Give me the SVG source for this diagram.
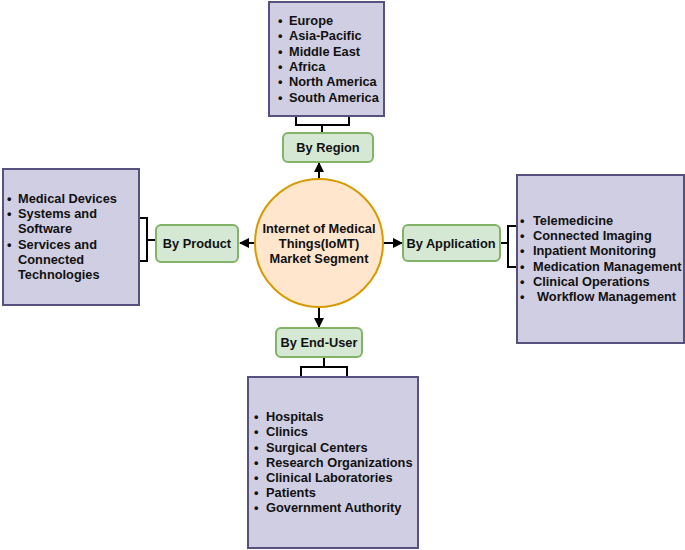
<svg xmlns="http://www.w3.org/2000/svg" width="685" height="550" viewBox="0 0 685 550">
<style>
.list{fill:#d0cee2;stroke:#56517e;stroke-width:2}
.cat{fill:#d5e8d4;stroke:#82b366;stroke-width:2}
.t{font-family:"Liberation Sans",Arial,sans-serif;font-weight:bold;font-size:12.8px;fill:#111}
.c{text-anchor:middle}
.ln{fill:none;stroke:#000;stroke-width:2}
</style>
<defs>
<marker id="ah" viewBox="0 0 10 10" refX="9" refY="5" markerWidth="5" markerHeight="5" orient="auto">
<path d="M0,0 L10,5 L0,10 z" fill="#000"/>
</marker>
</defs>
<g id="connectors">
<line class="ln" x1="319" y1="179" x2="319" y2="163" marker-end="url(#ah)"/>
<line class="ln" x1="255" y1="243" x2="240" y2="243" marker-end="url(#ah)"/>
<line class="ln" x1="383" y1="243" x2="402" y2="243" marker-end="url(#ah)"/>
<line class="ln" x1="319" y1="307" x2="319" y2="327" marker-end="url(#ah)"/>
<path class="ln" d="M296,116 V125 H349 V116 M322,125 V133"/>
<path class="ln" d="M139,218 H147 V261 H139 M147,240 H156"/>
<path class="ln" d="M500,243 H508 M518,226 H508 V267 H518"/>
<path class="ln" d="M324,357 V367 M301,377 V367 H347 V377"/>
</g>
<g id="center">
<circle cx="319" cy="243" r="64" fill="#ffe6cc" stroke="#d79b00" stroke-width="2"/>
<text class="t c" x="319" y="233">Internet of Medical</text>
<text class="t c" x="319" y="248">Things(IoMT)</text>
<text class="t c" x="319" y="263">Market Segment</text>
</g>
<g id="by-region">
<rect class="cat" x="283" y="133" width="90" height="29" rx="5"/>
<text class="t c" x="328" y="152">By Region</text>
</g>
<g id="region-list">
<rect class="list" x="269" y="2" width="115" height="114"/>
<text class="t" x="278" y="25">•</text><text class="t" x="289" y="25">Europe</text>
<text class="t" x="278" y="40">•</text><text class="t" x="289" y="40">Asia-Pacific</text>
<text class="t" x="278" y="56">•</text><text class="t" x="289" y="56">Middle East</text>
<text class="t" x="278" y="71">•</text><text class="t" x="289" y="71">Africa</text>
<text class="t" x="278" y="86">•</text><text class="t" x="289" y="86">North America</text>
<text class="t" x="278" y="102">•</text><text class="t" x="289" y="102">South America</text>
</g>
<g id="by-product">
<rect class="cat" x="156" y="225" width="82" height="37" rx="5"/>
<text class="t c" x="197" y="248">By Product</text>
</g>
<g id="product-list">
<rect class="list" x="3" y="169" width="136" height="136"/>
<text class="t" x="7" y="203">•</text><text class="t" x="18" y="203">Medical Devices</text>
<text class="t" x="7" y="218">•</text><text class="t" x="18" y="218">Systems and</text>
<text class="t" x="18" y="233">Software</text>
<text class="t" x="7" y="249">•</text><text class="t" x="18" y="249">Services and</text>
<text class="t" x="18" y="264">Connected</text>
<text class="t" x="18" y="279">Technologies</text>
</g>
<g id="by-application">
<rect class="cat" x="403" y="225" width="97" height="36" rx="5"/>
<text class="t c" x="451" y="248">By Application</text>
</g>
<g id="application-list">
<rect class="list" x="517" y="175" width="167" height="168"/>
<text class="t" x="520" y="225">•</text><text class="t" x="533" y="225">Telemedicine</text>
<text class="t" x="520" y="240">•</text><text class="t" x="533" y="240">Connected Imaging</text>
<text class="t" x="520" y="255">•</text><text class="t" x="533" y="255">Inpatient Monitoring</text>
<text class="t" x="520" y="271">•</text><text class="t" x="533" y="271">Medication Management</text>
<text class="t" x="520" y="286">•</text><text class="t" x="533" y="286">Clinical Operations</text>
<text class="t" x="520" y="301">•</text><text class="t" x="537" y="301">Workflow Management</text>
</g>
<g id="by-end-user">
<rect class="cat" x="276" y="328" width="86" height="29" rx="5"/>
<text class="t c" x="319" y="347">By End-User</text>
</g>
<g id="end-user-list">
<rect class="list" x="248" y="377" width="170" height="171"/>
<text class="t" x="254" y="421">•</text><text class="t" x="266" y="421">Hospitals</text>
<text class="t" x="254" y="436">•</text><text class="t" x="266" y="436">Clinics</text>
<text class="t" x="254" y="452">•</text><text class="t" x="266" y="452">Surgical Centers</text>
<text class="t" x="254" y="467">•</text><text class="t" x="266" y="467">Research Organizations</text>
<text class="t" x="254" y="482">•</text><text class="t" x="266" y="482">Clinical Laboratories</text>
<text class="t" x="254" y="497">•</text><text class="t" x="266" y="497">Patients</text>
<text class="t" x="254" y="512">•</text><text class="t" x="266" y="512">Government Authority</text>
</g>
</svg>
